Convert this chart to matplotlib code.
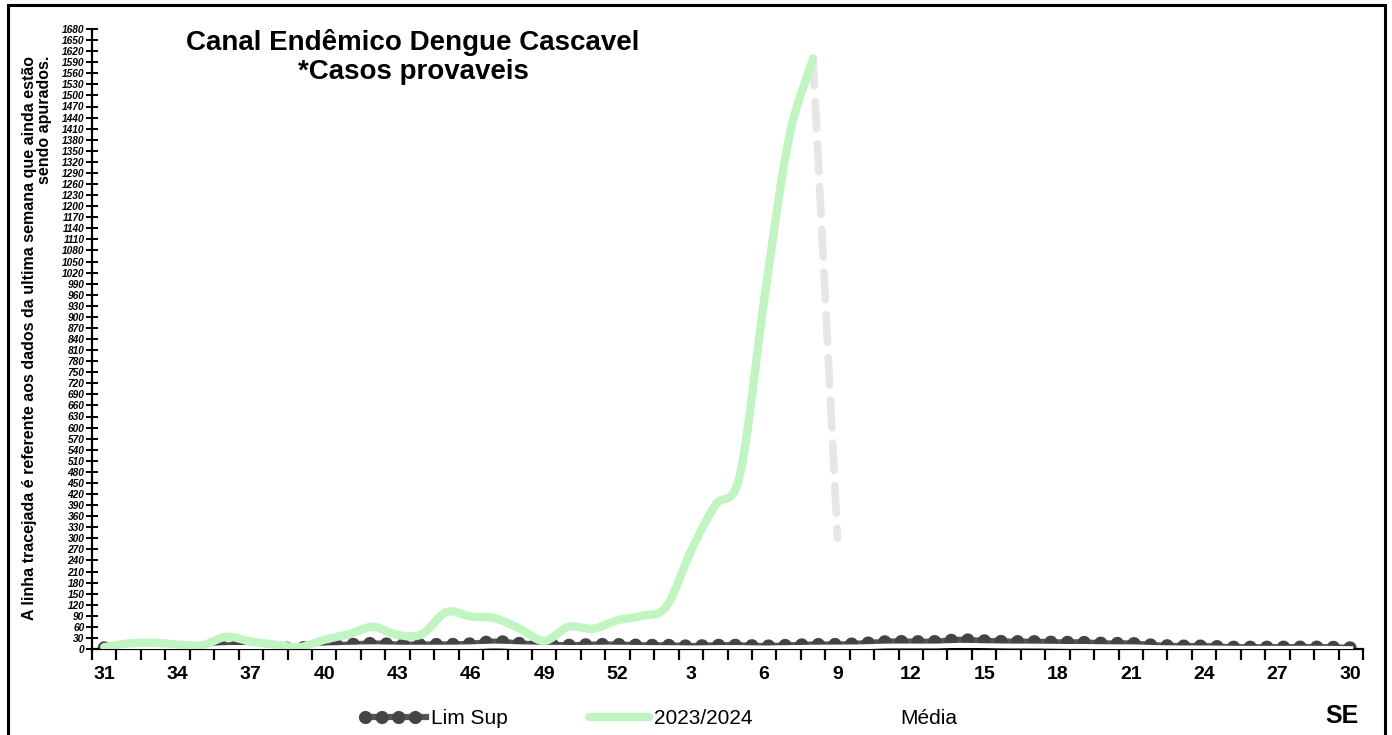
import numpy as np
import matplotlib
matplotlib.use('Agg')
import matplotlib.pyplot as plt
from matplotlib.patches import Rectangle
from matplotlib.legend_handler import HandlerTuple

plt.rcParams['font.family'] = ['Liberation Sans', 'DejaVu Sans']

# semanas epidemiologicas 31..52 e 1..30
semanas = list(range(31, 53)) + list(range(1, 31))

casos_2324 = [5, 15, 17, 12, 10, 33, 20, 12, 5, 25, 40, 60, 38, 40, 100, 88,
              83, 55, 22, 60, 55, 78, 90, 115, 265, 390, 470, 945, 1380, 1600]
tracejada_sem = [8, 9]
tracejada_val = [1600, 300]

lim_sup = [3, 3, 3, 3, 3, 10, 10, 3, 3, 8, 12, 15, 12, 12, 12, 14,
           20, 15, 12, 10, 12, 12, 10, 10, 8, 10, 10, 8, 10, 12, 12, 15,
           20, 20, 20, 25, 22, 20, 20, 18, 18, 15, 15, 10, 8, 8, 5, 5,
           5, 5, 5, 3]
media = [1, 1, 1, 1, 1, 4, 4, 1, 1, 3, 5, 6, 5, 5, 5, 6,
         8, 6, 5, 4, 5, 5, 4, 4, 3, 4, 4, 3, 4, 5, 5, 6,
         8, 8, 8, 10, 9, 8, 8, 7, 7, 6, 6, 4, 3, 3, 2, 2,
         2, 2, 2, 1]

y_ticks = list(range(0, 1681, 30))


def smooth(x, y, n=16):
    # curva suavizada (estilo excel) so para desenhar
    x = np.asarray(x, float)
    y = np.asarray(y, float)
    if len(x) < 3:
        return x, y
    px = np.concatenate([[2 * x[0] - x[1]], x, [2 * x[-1] - x[-2]]])
    py = np.concatenate([[2 * y[0] - y[1]], y, [2 * y[-1] - y[-2]]])
    xs, ys = [], []
    t = np.linspace(0, 1, n, endpoint=False)
    cr = lambda a0, a1, a2, a3: 0.5 * ((2 * a1) + (-a0 + a2) * t +
                                       (2 * a0 - 5 * a1 + 4 * a2 - a3) * t ** 2 +
                                       (-a0 + 3 * a1 - 3 * a2 + a3) * t ** 3)
    for i in range(1, len(px) - 2):
        xs.append(cr(px[i - 1], px[i], px[i + 1], px[i + 2]))
        ys.append(cr(py[i - 1], py[i], py[i + 1], py[i + 2]))
    xs.append([x[-1]])
    ys.append([y[-1]])
    return np.concatenate(xs), np.concatenate(ys)


pos = {s: i for i, s in enumerate(semanas)}
x_all = np.arange(len(semanas))

fig = plt.figure(figsize=(13.92, 7.35), dpi=100)
fig.patches.append(Rectangle((8 / 1392, -0.02), 1377 / 1392, 1.02 - 5 / 735,
                             transform=fig.transFigure, fill=False,
                             edgecolor='black', linewidth=2.2))

ax = fig.add_axes([92 / 1392, 86 / 735, 1271 / 1392, 620 / 735])

# Lim Sup (faixa escura com pontos) + Media (branca por cima)
xs, ys = smooth(x_all, lim_sup)
ls_band, = ax.plot(xs, ys, color='#555555', lw=4.5, zorder=2)
ls_dots, = ax.plot(xs, ys, color='#444444', lw=9.5, linestyle=(0, (0.01, 1.25)),
                   dash_capstyle='round', zorder=2)
xs, ys = smooth(x_all, media)
ax.plot(xs, ys, color='#333333', lw=0.8, linestyle=(0, (4, 3)), zorder=3)
med, = ax.plot(xs, ys, color='white', lw=3.5, zorder=3)

# 2023/2024
x_c = x_all[:len(casos_2324)]
xs, ys = smooth(x_c, casos_2324)
c24, = ax.plot(xs, ys, color='#c0f4c0', lw=6, solid_capstyle='round', zorder=4)

# linha tracejada (ultima semana)
xt = [pos[s] for s in tracejada_sem]
ax.plot(xt, tracejada_val, color='#e6e6e6', lw=5.5, linestyle=(0, (3.6, 2.0)),
        dash_capstyle='round', zorder=3)

ax.set_xlim(-0.5, len(semanas) - 0.5)
ax.set_ylim(0, 1680)
ax.set_xticks(np.arange(-0.5, len(semanas)), minor=False)
ax.set_xticklabels([])
ax.set_xticks(x_all[::3], minor=True)
ax.set_xticklabels([str(semanas[i]) for i in x_all[::3]], minor=True,
                   fontsize=14, fontweight='bold')
ax.tick_params(axis='x', which='major', direction='out', length=8, width=1.6)
ax.tick_params(axis='x', which='minor', length=0, pad=12)

ax.set_yticks(y_ticks)
ax.set_yticklabels([str(v) for v in y_ticks], fontsize=7.3,
                   fontweight='bold', fontstyle='italic')
ax.tick_params(axis='y', direction='inout', length=9, width=1.4, pad=1)

for s in ['top', 'right']:
    ax.spines[s].set_visible(False)
ax.spines['left'].set_linewidth(1.6)
ax.spines['bottom'].set_linewidth(1.6)

fig.text(413 / 1392, 1 - 57 / 735, 'Canal Endêmico Dengue Cascavel\n*Casos provaveis',
         ha='center', va='center', fontsize=20, fontweight='bold', linespacing=1.15)

fig.text(37 / 1392, 1 - 338 / 735,
         'A linha tracejada é referente aos dados da ultima semana que ainda estão\nsendo apurados.',
         rotation=90, ha='center', va='center', multialignment='right',
         fontsize=11.5, fontweight='bold', linespacing=1.05)

fig.text(1342 / 1392, 1 - 716 / 735, 'SE', ha='center', va='center',
         fontsize=18, fontweight='bold')

fig.legend([(ls_band, ls_dots), c24, med], ['Lim Sup', '2023/2024', 'Média'],
           handler_map={tuple: HandlerTuple(ndivide=1, pad=0)},
           loc='center', bbox_to_anchor=(661 / 1392, 1 - 719 / 735), ncol=3,
           frameon=False, fontsize=15, handlelength=2.9, handletextpad=0.25,
           columnspacing=3.9)

fig.savefig('out.png', dpi=100)
